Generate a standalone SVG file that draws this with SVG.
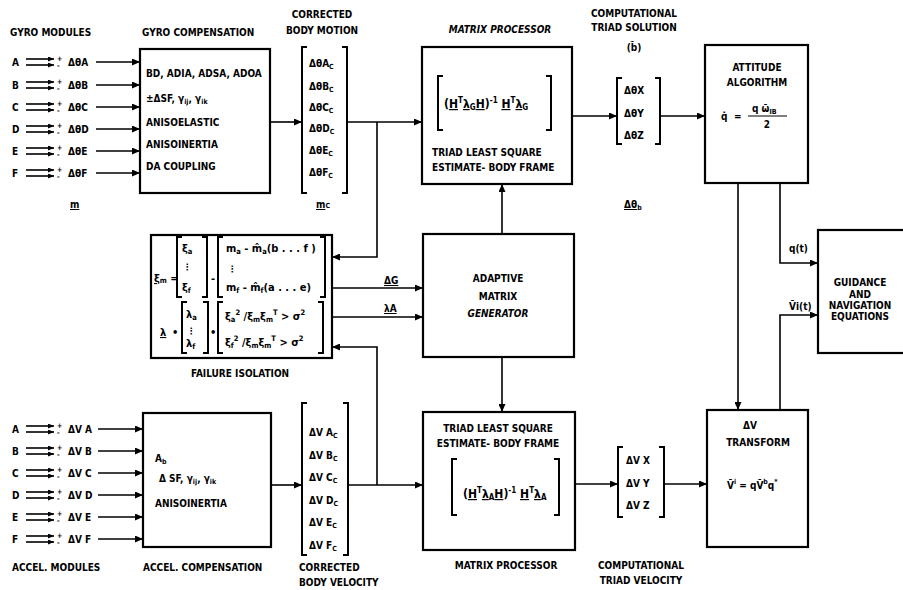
<svg xmlns="http://www.w3.org/2000/svg" width="903" height="590" viewBox="0 0 903 590">
<style>
.t{font-family:"DejaVu Sans Condensed","DejaVu Sans","Liberation Sans",sans-serif;font-weight:bold;font-size:10px;fill:#000}
.s{font-size:7px}
.f{font-size:12px}
.f .s{font-size:8px}
.e{font-size:11px}
.e .s{font-size:7.5px}
.u{text-decoration:underline}
.m{text-anchor:middle}
.ln{stroke:#000;stroke-width:1.6;fill:none}
.bx{stroke:#000;stroke-width:2.2;fill:#fff}
.br{stroke:#000;stroke-width:2;fill:none}
.ul{stroke:#000;stroke-width:1;fill:none}
</style>
<defs>
<marker id="ah" markerUnits="userSpaceOnUse" markerWidth="8" markerHeight="7" refX="8" refY="3.5" orient="auto"><path d="M0,0 L8,3.5 L0,7 z" fill="#000"/></marker>
<marker id="sa" markerUnits="userSpaceOnUse" markerWidth="6" markerHeight="5" refX="6" refY="2.5" orient="auto"><path d="M0,0 L6,2.5 L0,5 z" fill="#000"/></marker>
</defs>
<rect width="903" height="590" fill="#fff"/>

<!-- GYRO MODULES -->
<g id="gyro-modules">
<text class="t" x="10" y="36">GYRO MODULES</text>
<g class="t">
<text x="12" y="66">A</text><text x="12" y="89">B</text><text x="12" y="111">C</text><text x="12" y="133">D</text><text x="12" y="155">E</text><text x="12" y="177">F</text>
<text x="68" y="66">ΔθA</text><text x="68" y="89">ΔθB</text><text x="68" y="111">ΔθC</text><text x="68" y="133">ΔθD</text><text x="68" y="155">ΔθE</text><text x="68" y="177">ΔθF</text>
<text class="s" x="57" y="61">+</text><text class="s" x="57" y="68">-</text>
<text class="s" x="57" y="84">+</text><text class="s" x="57" y="91">-</text>
<text class="s" x="57" y="106">+</text><text class="s" x="57" y="113">-</text>
<text class="s" x="57" y="128">+</text><text class="s" x="57" y="135">-</text>
<text class="s" x="57" y="150">+</text><text class="s" x="57" y="157">-</text>
<text class="s" x="57" y="172">+</text><text class="s" x="57" y="179">-</text>
<text class="u" x="70" y="208">m</text>
</g>
<g class="ln" stroke-width="1.2">
<line x1="26" y1="59" x2="54" y2="59" marker-end="url(#sa)"/><line x1="26" y1="65" x2="54" y2="65" marker-end="url(#sa)"/>
<line x1="26" y1="82" x2="54" y2="82" marker-end="url(#sa)"/><line x1="26" y1="88" x2="54" y2="88" marker-end="url(#sa)"/>
<line x1="26" y1="104" x2="54" y2="104" marker-end="url(#sa)"/><line x1="26" y1="110" x2="54" y2="110" marker-end="url(#sa)"/>
<line x1="26" y1="126" x2="54" y2="126" marker-end="url(#sa)"/><line x1="26" y1="132" x2="54" y2="132" marker-end="url(#sa)"/>
<line x1="26" y1="148" x2="54" y2="148" marker-end="url(#sa)"/><line x1="26" y1="154" x2="54" y2="154" marker-end="url(#sa)"/>
<line x1="26" y1="170" x2="54" y2="170" marker-end="url(#sa)"/><line x1="26" y1="176" x2="54" y2="176" marker-end="url(#sa)"/>
</g>
</g>

<!-- GYRO COMPENSATION -->
<g id="gyro-compensation">
<text class="t" x="142" y="36">GYRO COMPENSATION</text>
<rect class="bx" x="140" y="49" width="130" height="144"/>
<g class="t">
<text x="146" y="77">BD, ADIA, ADSA, ADOA</text>
<text x="146" y="102">±ΔSF, γ<tspan class="s" dy="2">ij</tspan><tspan dy="-2">, γ</tspan><tspan class="s" dy="2">ik</tspan></text>
<text x="146" y="126">ANISOELASTIC</text>
<text x="146" y="148">ANISOINERTIA</text>
<text x="146" y="170">DA COUPLING</text>
</g>
</g>

<!-- CORRECTED BODY MOTION -->
<g id="corrected-body-motion">
<text class="t m" x="322" y="18">CORRECTED</text>
<text class="t m" x="322" y="34">BODY MOTION</text>
<path class="br" d="M307,47 H302 V193 H307 M342,47 H347 V193 H342"/>
<g class="t">
<text x="309" y="67">ΔθA<tspan class="s" dy="2">C</tspan></text>
<text x="309" y="90">ΔθB<tspan class="s" dy="2">C</tspan></text>
<text x="309" y="111">ΔθC<tspan class="s" dy="2">C</tspan></text>
<text x="309" y="132">ΔθD<tspan class="s" dy="2">C</tspan></text>
<text x="309" y="154">ΔθE<tspan class="s" dy="2">C</tspan></text>
<text x="309" y="176">ΔθF<tspan class="s" dy="2">C</tspan></text>
<text x="316" y="208"><tspan class="u">m</tspan><tspan class="s">C</tspan></text>
</g>
</g>

<!-- MATRIX PROCESSOR (gyro) -->
<g id="matrix-processor-gyro">
<text class="t m" x="500" y="33" font-style="italic">MATRIX PROCESSOR</text>
<rect class="bx" x="422" y="47" width="150" height="137"/>
<path class="br" d="M443,76 H438 V130 H443 M546,76 H551 V130 H546"/>
<text class="t f" x="444" y="108">(<tspan class="u">H</tspan><tspan class="s" dy="-5">T</tspan><tspan class="u" dy="5">λ</tspan><tspan class="s" dy="2">G</tspan><tspan class="u" dy="-2">H</tspan>)<tspan class="s" dy="-5">-1</tspan><tspan dy="5"> </tspan><tspan class="u">H</tspan><tspan class="s" dy="-5">T</tspan><tspan class="u" dy="5">λ</tspan><tspan class="s" dy="2">G</tspan></text>
<text class="t" x="432" y="156">TRIAD LEAST SQUARE</text>
<text class="t" x="432" y="171">ESTIMATE- BODY FRAME</text>
</g>

<!-- COMPUTATIONAL TRIAD SOLUTION -->
<g id="triad-solution">
<text class="t m" x="634" y="17">COMPUTATIONAL</text>
<text class="t m" x="634" y="31">TRIAD SOLUTION</text>
<text class="t m" x="634" y="51">(b̃)</text>
<path class="br" d="M622,78 H617 V144 H622 M655,78 H660 V144 H655"/>
<g class="t">
<text x="624" y="94">ΔθX</text>
<text x="624" y="117">ΔθY</text>
<text x="624" y="139">ΔθZ</text>
<text x="624" y="208"><tspan class="u">Δθ</tspan><tspan class="s" dy="2">b</tspan></text>
</g>
</g>

<!-- ATTITUDE ALGORITHM -->
<g id="attitude-algorithm">
<rect class="bx" x="705" y="45" width="103" height="138"/>
<text class="t m" x="757" y="71">ATTITUDE</text>
<text class="t m" x="757" y="86">ALGORITHM</text>
<text class="t" x="721" y="120">q̇</text>
<text class="t" x="734" y="120">=</text>
<text class="t" x="752" y="112">q ω̄<tspan class="s" dy="2">IB</tspan></text>
<line class="ul" x1="748" y1="116" x2="787" y2="116"/>
<text class="t m" x="767" y="128">2</text>
</g>

<!-- FAILURE ISOLATION -->
<g id="failure-isolation">
<rect class="bx" x="151" y="235" width="181" height="123"/>
<text class="t m" x="240" y="377">FAILURE ISOLATION</text>
<g class="t e">
<text x="154" y="282"><tspan class="u">ξ</tspan><tspan class="s" dy="1">m</tspan><tspan dy="-1"> =</tspan></text>
<text x="182" y="252">ξ<tspan class="s" dy="2">a</tspan></text>
<text x="183" y="270" font-size="9">⋮</text>
<text x="182" y="291">ξ<tspan class="s" dy="2">f</tspan></text>
<text x="211" y="282">-</text>
<text x="226" y="252">m<tspan class="s" dy="2">a</tspan><tspan dy="-2"> - m̂</tspan><tspan class="s" dy="2">a</tspan><tspan dy="-2">(b . . . f )</tspan></text>
<text x="228" y="272" font-size="9">⋮</text>
<text x="226" y="291">m<tspan class="s" dy="2">f</tspan><tspan dy="-2"> - m̂</tspan><tspan class="s" dy="2">f</tspan><tspan dy="-2">(a . . . e)</tspan></text>
<text class="u" x="160" y="336">λ</text>
<text x="172" y="336">•</text>
<text x="186" y="318">λ<tspan class="s" dy="2">a</tspan></text>
<text x="187" y="334" font-size="9">⋮</text>
<text x="186" y="347">λ<tspan class="s" dy="2">f</tspan></text>
<text x="210" y="336">•</text>
<text x="225" y="320">ξ<tspan class="s" dy="2">a</tspan><tspan class="s" dy="-7">2</tspan><tspan dy="5"> /ξ</tspan><tspan class="s" dy="2">m</tspan><tspan dy="-2">ξ</tspan><tspan class="s" dy="2">m</tspan><tspan class="s" dy="-7">T</tspan><tspan dy="5"> &gt; σ</tspan><tspan class="s" dy="-5">2</tspan></text>
<text x="225" y="346">ξ<tspan class="s" dy="2">f</tspan><tspan class="s" dy="-7">2</tspan><tspan dy="5"> /ξ</tspan><tspan class="s" dy="2">m</tspan><tspan dy="-2">ξ</tspan><tspan class="s" dy="2">m</tspan><tspan class="s" dy="-7">T</tspan><tspan dy="5"> &gt; σ</tspan><tspan class="s" dy="-5">2</tspan></text>
</g>
<path class="br" d="M182,237 H177 V297 H182 M202,237 H207 V297 H202 M223,237 H218 V297 H223 M320,237 H325 V297 H320"/>
<path class="br" d="M187,302 H182 V353 H187 M203,302 H208 V353 H203 M223,302 H218 V353 H223 M318,302 H323 V353 H318"/>
</g>

<!-- ADAPTIVE MATRIX GENERATOR -->
<g id="adaptive-matrix-generator">
<rect class="bx" x="423" y="234" width="151" height="123"/>
<text class="t m" x="498" y="282">ADAPTIVE</text>
<text class="t m" x="498" y="300">MATRIX</text>
<text class="t m" x="498" y="317" font-style="italic">GENERATOR</text>
</g>

<!-- GUIDANCE AND NAVIGATION EQUATIONS -->
<g id="guidance-navigation">
<rect class="bx" x="818" y="230" width="90" height="123"/>
<text class="t m" x="860" y="286">GUIDANCE</text>
<text class="t m" x="860" y="298">AND</text>
<text class="t m" x="860" y="309">NAVIGATION</text>
<text class="t m" x="860" y="320">EQUATIONS</text>
</g>

<!-- ACCEL MODULES -->
<g id="accel-modules">
<text class="t" x="12" y="571">ACCEL. MODULES</text>
<g class="t">
<text x="12" y="433">A</text><text x="12" y="455">B</text><text x="12" y="477">C</text><text x="12" y="499">D</text><text x="12" y="521">E</text><text x="12" y="543">F</text>
<text x="68" y="433">ΔV A</text><text x="68" y="455">ΔV B</text><text x="68" y="477">ΔV C</text><text x="68" y="499">ΔV D</text><text x="68" y="521">ΔV E</text><text x="68" y="543">ΔV F</text>
<text class="s" x="57" y="428">+</text><text class="s" x="57" y="435">-</text>
<text class="s" x="57" y="450">+</text><text class="s" x="57" y="457">-</text>
<text class="s" x="57" y="472">+</text><text class="s" x="57" y="479">-</text>
<text class="s" x="57" y="494">+</text><text class="s" x="57" y="501">-</text>
<text class="s" x="57" y="516">+</text><text class="s" x="57" y="523">-</text>
<text class="s" x="57" y="538">+</text><text class="s" x="57" y="545">-</text>
</g>
<g class="ln" stroke-width="1.2">
<line x1="26" y1="426" x2="54" y2="426" marker-end="url(#sa)"/><line x1="26" y1="432" x2="54" y2="432" marker-end="url(#sa)"/>
<line x1="26" y1="448" x2="54" y2="448" marker-end="url(#sa)"/><line x1="26" y1="454" x2="54" y2="454" marker-end="url(#sa)"/>
<line x1="26" y1="470" x2="54" y2="470" marker-end="url(#sa)"/><line x1="26" y1="476" x2="54" y2="476" marker-end="url(#sa)"/>
<line x1="26" y1="492" x2="54" y2="492" marker-end="url(#sa)"/><line x1="26" y1="498" x2="54" y2="498" marker-end="url(#sa)"/>
<line x1="26" y1="514" x2="54" y2="514" marker-end="url(#sa)"/><line x1="26" y1="520" x2="54" y2="520" marker-end="url(#sa)"/>
<line x1="26" y1="536" x2="54" y2="536" marker-end="url(#sa)"/><line x1="26" y1="542" x2="54" y2="542" marker-end="url(#sa)"/>
</g>
</g>

<!-- ACCEL COMPENSATION -->
<g id="accel-compensation">
<rect class="bx" x="143" y="413" width="128" height="134"/>
<text class="t" x="143" y="571">ACCEL. COMPENSATION</text>
<g class="t">
<text x="155" y="462">A<tspan class="s" dy="2">b</tspan></text>
<text x="159" y="482">Δ SF, γ<tspan class="s" dy="2">ij</tspan><tspan dy="-2">, γ</tspan><tspan class="s" dy="2">ik</tspan></text>
<text x="155" y="507">ANISOINERTIA</text>
</g>
</g>

<!-- CORRECTED BODY VELOCITY -->
<g id="corrected-body-velocity">
<path class="br" d="M307,403 H302 V555 H307 M343,403 H348 V555 H343"/>
<g class="t">
<text x="309" y="436">ΔV A<tspan class="s" dy="2">C</tspan></text>
<text x="309" y="459">ΔV B<tspan class="s" dy="2">C</tspan></text>
<text x="309" y="481">ΔV C<tspan class="s" dy="2">C</tspan></text>
<text x="309" y="504">ΔV D<tspan class="s" dy="2">C</tspan></text>
<text x="309" y="526">ΔV E<tspan class="s" dy="2">C</tspan></text>
<text x="309" y="549">ΔV F<tspan class="s" dy="2">C</tspan></text>
<text x="299" y="571">CORRECTED</text>
<text x="299" y="586">BODY VELOCITY</text>
</g>
</g>

<!-- MATRIX PROCESSOR (accel) -->
<g id="matrix-processor-accel">
<rect class="bx" x="423" y="412" width="152" height="138"/>
<text class="t m" x="498" y="432">TRIAD LEAST SQUARE</text>
<text class="t m" x="498" y="447">ESTIMATE- BODY FRAME</text>
<path class="br" d="M457,459 H452 V515 H457 M554,459 H559 V515 H554"/>
<text class="t f" x="463" y="498">(<tspan class="u">H</tspan><tspan class="s" dy="-5">T</tspan><tspan class="u" dy="5">λ</tspan><tspan class="s" dy="2">A</tspan><tspan class="u" dy="-2">H</tspan>)<tspan class="s" dy="-5">-1</tspan><tspan dy="5"> </tspan><tspan class="u">H</tspan><tspan class="s" dy="-5">T</tspan><tspan class="u" dy="5">λ</tspan><tspan class="s" dy="2">A</tspan></text>
<text class="t m" x="506" y="569">MATRIX PROCESSOR</text>
</g>

<!-- COMPUTATIONAL TRIAD VELOCITY -->
<g id="triad-velocity">
<path class="br" d="M623,447 H618 V517 H623 M659,447 H664 V517 H659"/>
<g class="t">
<text x="626" y="464">ΔV X</text>
<text x="626" y="487">ΔV Y</text>
<text x="626" y="509">ΔV Z</text>
</g>
<text class="t m" x="641" y="569">COMPUTATIONAL</text>
<text class="t m" x="641" y="584">TRIAD VELOCITY</text>
</g>

<!-- DELTA V TRANSFORM -->
<g id="dv-transform">
<rect class="bx" x="707" y="410" width="101" height="137"/>
<text class="t m" x="750" y="429">ΔV</text>
<text class="t m" x="758" y="446">TRANSFORM</text>
<text class="t" x="727" y="489">V̄<tspan class="s" dy="-5">i</tspan><tspan dy="5"> = qV̄</tspan><tspan class="s" dy="-5">b</tspan><tspan dy="5">q</tspan><tspan class="s" dy="-5">*</tspan></text>
</g>

<!-- CONNECTORS -->
<g id="connectors" class="ln">
<line x1="270" y1="122" x2="302" y2="122" marker-end="url(#ah)"/>
<line x1="347" y1="122" x2="422" y2="122" marker-end="url(#ah)"/>
<polyline points="377,122 377,257 332,257" marker-end="url(#ah)"/>
<line x1="572" y1="116" x2="617" y2="116" marker-end="url(#ah)"/>
<line x1="660" y1="116" x2="705" y2="116" marker-end="url(#ah)"/>
<line x1="502" y1="234" x2="502" y2="184" marker-end="url(#ah)"/>
<line x1="502" y1="357" x2="502" y2="412" marker-end="url(#ah)"/>
<line x1="332" y1="288" x2="423" y2="288" marker-end="url(#ah)"/>
<line x1="332" y1="317" x2="423" y2="317" marker-end="url(#ah)"/>
<line x1="271" y1="485" x2="302" y2="485" marker-end="url(#ah)"/>
<line x1="348" y1="485" x2="423" y2="485" marker-end="url(#ah)"/>
<polyline points="377,485 377,347 332,347" marker-end="url(#ah)"/>
<line x1="575" y1="484" x2="618" y2="484" marker-end="url(#ah)"/>
<line x1="664" y1="484" x2="707" y2="484" marker-end="url(#ah)"/>
<line x1="738" y1="183" x2="738" y2="410" marker-end="url(#ah)"/>
<polyline points="780,183 780,263 818,263" marker-end="url(#ah)"/>
<polyline points="780,410 780,315 818,315" marker-end="url(#ah)"/>
<g stroke-width="1.4">
<line x1="96" y1="62" x2="140" y2="62" marker-end="url(#ah)"/>
<line x1="96" y1="85" x2="140" y2="85" marker-end="url(#ah)"/>
<line x1="96" y1="107" x2="140" y2="107" marker-end="url(#ah)"/>
<line x1="96" y1="129" x2="140" y2="129" marker-end="url(#ah)"/>
<line x1="96" y1="151" x2="140" y2="151" marker-end="url(#ah)"/>
<line x1="96" y1="173" x2="140" y2="173" marker-end="url(#ah)"/>
<line x1="98" y1="429" x2="143" y2="429" marker-end="url(#ah)"/>
<line x1="98" y1="451" x2="143" y2="451" marker-end="url(#ah)"/>
<line x1="98" y1="473" x2="143" y2="473" marker-end="url(#ah)"/>
<line x1="98" y1="495" x2="143" y2="495" marker-end="url(#ah)"/>
<line x1="98" y1="517" x2="143" y2="517" marker-end="url(#ah)"/>
<line x1="98" y1="539" x2="143" y2="539" marker-end="url(#ah)"/>
</g>
</g>
<g class="t">
<text class="u" x="384" y="284">ΔG</text>
<text class="u" x="384" y="312">λA</text>
<text x="789" y="252">q(t)</text>
<text x="789" y="310">V̄i(t)</text>
</g>
</svg>
